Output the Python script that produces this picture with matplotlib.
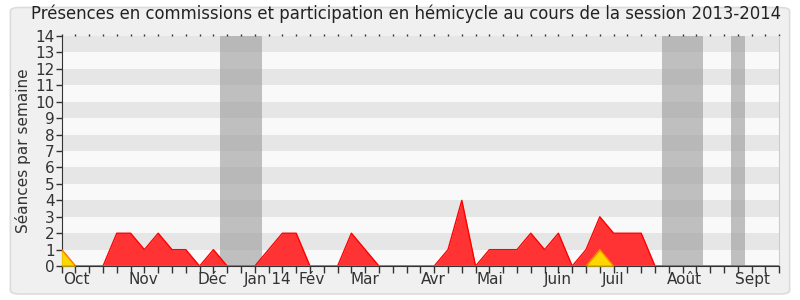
import matplotlib.pyplot as plt
from matplotlib.patches import FancyBboxPatch
from matplotlib import font_manager
import numpy as np

# weekly values, session 2013-2014 (week 0 = start of October)
weeks = list(range(53))
presences = [1, 0, 0, 0, 2, 2, 1, 2, 1, 1, 0, 1, 0, 0, 0, 1, 2, 2, 0, 0,
             0, 2, 1, 0, 0, 0, 0, 0, 1, 4, 0, 1, 1, 1, 2, 1, 2, 0, 1, 3,
             2, 2, 2, 0, 0, 0, 0, 0, 0, 0, 0, 0, 0]
participation = [1, 0, 0, 0, 0, 0, 0, 0, 0, 0, 0, 0, 0, 0, 0, 0, 0, 0, 0, 0,
                 0, 0, 0, 0, 0, 0, 0, 0, 0, 0, 0, 0, 0, 0, 0, 0, 0, 0, 0, 1,
                 0, 0, 0, 0, 0, 0, 0, 0, 0, 0, 0, 0, 0]
interventions = [0] * 53

# holiday weeks (start, end)
vacances = [(11.5, 14.5), (43.5, 46.5), (48.5, 49.5)]

month_labels = ["Oct", "Nov", "Déc", "Jan 14", "Fév", "Mar", "Avr", "Mai",
                "Juin", "Juil", "Août", "Sept"]
month_pos = [1.05, 5.9, 10.9, 14.95, 18.1, 22.0, 26.9, 31.0, 35.95, 40.0,
             45.1, 50.1]

names = {f.name for f in font_manager.fontManager.ttflist}
narrow = "Liberation Sans Narrow" in names
if narrow:
    fam = ["Liberation Sans Narrow", "DejaVu Sans"]
    title_size, lab_size = 14.5, 12.5
else:
    fam = ["DejaVu Sans"]
    title_size, lab_size = 11.9, 11
plt.rcParams["font.family"] = fam

fig = plt.figure(figsize=(8, 3), dpi=100)
fig.patch.set_facecolor("white")
frame = FancyBboxPatch((0.013, 0.02), 0.974, 0.955, boxstyle="round,pad=0,rounding_size=0.012",
                       transform=fig.transFigure, facecolor="#f0f0f0",
                       edgecolor="#dcdcdc", linewidth=1.2, zorder=-10)
fig.patches.append(frame)

ax = fig.add_axes([0.077, 0.113, 0.897, 0.767])
ax.set_facecolor("#f9f9f9")

for y in range(1, 14, 2):
    ax.axhspan(y, y + 1, color="#e6e6e6", lw=0, zorder=0)
for a, b in vacances:
    ax.axvspan(a, b, color="#a0a0a0", alpha=0.65, lw=0, zorder=1)

ax.fill_between(weeks, presences, color="#ff3333", lw=0, zorder=2)
ax.plot(weeks, presences, color="#ff0000", lw=1, zorder=3)
ax.fill_between(weeks, participation, color="#ffd700", lw=0, zorder=4)
ax.plot(weeks, participation, color="#ff8c00", lw=1, zorder=5)
ax.plot(weeks, interventions, color="#006400", lw=1, zorder=6)

ax.set_xlim(0, 52)
ax.set_ylim(0, 14)
ax.set_yticks(range(15))
ax.set_xticks(weeks)
ax.set_xticklabels([])
ax.tick_params(axis="x", direction="out", length=5, color="#333333", width=1)
ax.tick_params(axis="y", direction="out", length=4, color="#333333", width=1,
               labelsize=lab_size, labelcolor="#333333", pad=1)
ax.tick_params(top=True, which="major")
for t in ax.xaxis.get_major_ticks():
    t.tick2line.set_markersize(1.5)
    t.tick2line.set_color("#000000")

for lab, p in zip(month_labels, month_pos):
    ax.text(p, -0.35, lab, ha="center", va="top", fontsize=lab_size, color="#333333",
            transform=ax.transData)

ax.spines["left"].set_color("#333333")
ax.spines["bottom"].set_color("#333333")
ax.spines["top"].set_visible(False)
ax.spines["right"].set_color("#cccccc")

ax.set_ylabel("Séances par semaine", fontsize=lab_size, color="#333333", labelpad=3)
fig.text(0.507, 0.985, "Présences en commissions et participation en hémicycle au cours de la session 2013-2014",
         ha="center", va="top", fontsize=title_size, color="#222222")

fig.savefig("out.png", dpi=100, facecolor=fig.get_facecolor())
